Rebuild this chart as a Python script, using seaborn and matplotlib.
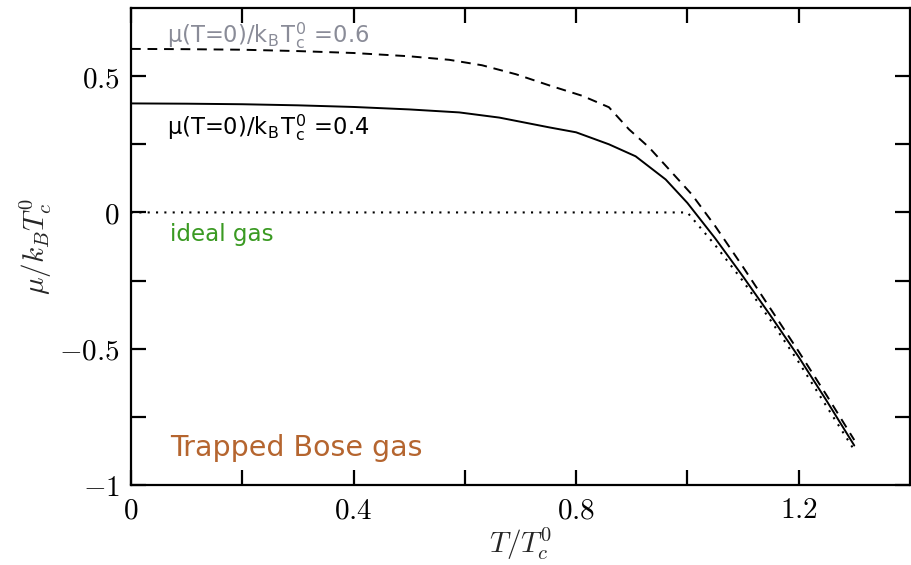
import matplotlib
matplotlib.use("Agg")
import matplotlib.pyplot as plt
import seaborn as sns

# Chemical potential vs temperature for a trapped Bose gas
T_ideal = [0.0, 0.2, 0.4, 0.6, 0.8, 1.0, 1.05, 1.1, 1.15, 1.2, 1.25, 1.3]
mu_ideal = [0.0, 0.0, 0.0, 0.0, 0.0, 0.0, -0.12, -0.252, -0.397, -0.549, -0.711, -0.872]

T_int04 = [0.0, 0.1, 0.2, 0.3, 0.4, 0.5, 0.59, 0.662, 0.752, 0.8, 0.859, 0.907,
           0.961, 1.0, 1.05, 1.1, 1.15, 1.2, 1.25, 1.3]
mu_int04 = [0.400, 0.399, 0.397, 0.393, 0.387, 0.378, 0.367, 0.348, 0.312, 0.294,
            0.250, 0.206, 0.121, 0.035, -0.095, -0.235, -0.380, -0.530, -0.690, -0.855]

T_int06 = [0.0, 0.1, 0.2, 0.3, 0.4, 0.5, 0.572, 0.631, 0.692, 0.752, 0.811, 0.859,
           0.895, 0.931, 0.972, 1.008, 1.05, 1.1, 1.15, 1.2, 1.25, 1.3]
mu_int06 = [0.600, 0.599, 0.597, 0.592, 0.585, 0.573, 0.560, 0.540, 0.507, 0.466,
            0.428, 0.386, 0.305, 0.239, 0.147, 0.066, -0.050, -0.200, -0.355, -0.510,
            -0.670, -0.835]

x_ticks = [0, 0.2, 0.4, 0.6, 0.8, 1.0, 1.2]
x_tick_labels = ["$0$", "", "$0.4$", "", "$0.8$", "", "$1.2$"]
y_ticks = [-1, -0.75, -0.5, -0.25, 0, 0.25, 0.5]
y_tick_labels = ["$-1$", "", "$-0.5$", "", "$0$", "", "$0.5$"]

sns.set_theme(style="ticks")
plt.rcParams["mathtext.fontset"] = "cm"
plt.rcParams["font.family"] = ["DejaVu Sans"]

fig = plt.figure(figsize=(9.11, 5.65), dpi=100)
ax = fig.add_axes([0.1438, 0.1416, 0.855, 0.8442])

sns.lineplot(x=T_ideal, y=mu_ideal, ax=ax, color="black", lw=1.5,
             linestyle=(0, (1, 3)))
sns.lineplot(x=T_int04, y=mu_int04, ax=ax, color="black", lw=1.4)
sns.lineplot(x=T_int06, y=mu_int06, ax=ax, color="black", lw=1.4,
             linestyle=(0, (5, 3.5)))

ax.set_xlim(0, 1.4)
ax.set_ylim(-1, 0.75)
ax.set_xticks(x_ticks)
ax.set_xticklabels(x_tick_labels)
ax.set_yticks(y_ticks)
ax.set_yticklabels(y_tick_labels)

ax.tick_params(direction="in", length=11, width=1.6, top=True, right=True,
               labelsize=21, pad=8, colors="black")
for s in ax.spines.values():
    s.set_linewidth(1.6)
    s.set_color("black")

ax.set_xlabel(r"$T/T_c^0$", fontsize=21, labelpad=1)
ax.set_ylabel(r"$\mu/k_BT_c^0$", fontsize=21, labelpad=4)

txt_kw = dict(fontsize=16.3, family=["DejaVu Sans"], va="baseline", ha="left")
ax.text(0.064, 0.62,
        r"μ(T=0)/k$_\mathregular{B}$T$_\mathregular{c}^\mathregular{0}$ =0.6",
        color="#8a8c98", **txt_kw)
ax.text(0.064, 0.285,
        r"μ(T=0)/k$_\mathregular{B}$T$_\mathregular{c}^\mathregular{0}$ =0.4",
        color="black", **txt_kw)
ax.text(0.07, -0.105, "ideal gas", color="#3a9a22", fontsize=16.6,
        family=["DejaVu Sans"], va="baseline", ha="left")
ax.text(0.07, -0.895, "Trapped Bose gas", color="#b5652f", fontsize=20.5,
        family=["DejaVu Sans"], va="baseline", ha="left")

fig.savefig("out.png", dpi=100)
